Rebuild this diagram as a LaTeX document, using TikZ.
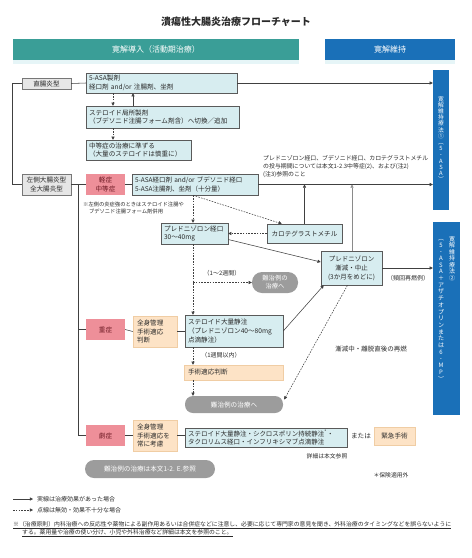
\documentclass[tikz,border=0pt]{standalone}
\usepackage{fontspec}
\setmainfont{Noto Sans CJK JP}
\usetikzlibrary{arrows.meta,calc}
\definecolor{teal1}{HTML}{3A9E97}
\definecolor{blue1}{HTML}{1A70B8}
\definecolor{cyanf}{HTML}{D7EDF0}
\definecolor{cyanl}{HTML}{E6F5F7}
\definecolor{boxd}{HTML}{5A5A5A}
\definecolor{pinkf}{HTML}{EE8F99}
\definecolor{pinkt}{HTML}{6E1A24}
\definecolor{peachf}{HTML}{FDE3C6}
\definecolor{peachd}{HTML}{F0CDA4}
\definecolor{grayf}{HTML}{E6E6E6}
\definecolor{grayd}{HTML}{777777}
\definecolor{pillf}{HTML}{9C9C9C}
\definecolor{lnc}{HTML}{404040}
\definecolor{lnl}{HTML}{8A8A8A}
\definecolor{txt}{HTML}{2A2A2A}
\begin{document}
\begin{tikzpicture}[x=1pt,y=-1pt,
  every node/.style={font=\fontsize{6.6}{8.8}\selectfont, text=txt},
  cbox/.style={draw=boxd, line width=0.5pt, fill=cyanf, inner xsep=3pt, inner ysep=0pt, align=left},
  gbox/.style={draw=grayd, line width=0.5pt, fill=grayf, inner sep=0pt, align=center},
  pbox/.style={fill=pinkf, text=pinkt, inner sep=0pt, align=center, minimum width=39, minimum height=21},
  obox/.style={fill=peachf, draw=peachd, line width=0.5pt, inner xsep=4pt, inner ysep=0pt, align=left},
  pill/.style={fill=pillf, text=white, inner sep=0pt, align=center},
  vt/.style={text=white, align=center, inner sep=0pt},
  lbl/.style={font=\fontsize{6}{8}\selectfont, inner sep=0pt},
  ln/.style={draw=lnc, line width=0.55pt},
  dsh/.style={ln, dash pattern=on 1.6pt off 1.2pt},
  arr/.style={-{Triangle[length=3.2pt,width=3.2pt]}}
]
\useasboundingbox (0,0) rectangle (472,558);

% title and headers
\node[font=\fontsize{10}{12}\selectfont\bfseries] (title) at (236,22) {潰瘍性大腸炎治療フローチャート};
\fill[cyanl] (13,60) rectangle (299,64);
\fill[cyanl] (325,60) rectangle (455,64);
\node[fill=teal1, text=white, minimum width=286, minimum height=21, inner sep=0pt, font=\fontsize{8}{10}\selectfont] (hdA) at (156,49.5) {寛解導入（活動期治療）};
\node[fill=blue1, text=white, minimum width=130, minimum height=21, inner sep=0pt, font=\fontsize{8}{10}\selectfont] (hdB) at (390,49.5) {寛解維持};

% maintenance bars
\node[fill=blue1, minimum width=16, minimum height=140, inner sep=0pt] (bar1) at (441,140) {};
\node[fill=blue1, minimum width=27, minimum height=193, inner sep=0pt] (bar2) at (446.5,318.5) {};
\node[vt, anchor=north, font=\fontsize{5.8}{6.2}\selectfont] (b1t) at (441,96) {寛\\解\\維\\持\\療\\法\\①\\︵\\5\\-\\A\\S\\A\\︶};
\node[vt, anchor=north, font=\fontsize{6}{6.5}\selectfont] (b2ta) at (452,236) {寛\\解\\維\\持\\療\\法\\②};
\node[vt, anchor=north, font=\fontsize{6}{6.7}\selectfont] (b2tb) at (441,239) {︵\\5\\-\\A\\S\\A\\＋\\ア\\ザ\\チ\\オ\\プ\\リ\\ン\\ま\\た\\は\\6\\-\\M\\P\\︶};

% proctitis row
\node[gbox, minimum width=49, minimum height=11] (rect) at (46.5,83.5) {直腸炎型};
\node[cbox, text width=145, minimum height=20] (asa1) at (161.5,83) {5-ASA製剤\\経口剤 and/or 注腸剤、坐剤};
\node[cbox, text width=147, minimum height=22] (ster) at (162.5,117) {ステロイド局所製剤\\（ブデソニド注腸フォーム剤含）へ切換／追加};
\node[cbox, text width=99, minimum height=20] (chuto) at (138.5,150) {中等症の治療に準ずる\\（大量のステロイドは慎重に）};

% left-sided / pancolitis
\node[gbox, minimum width=49, minimum height=21] (left) at (46.5,184.5) {左側大腸炎型\\全大腸炎型};
\node[pbox] (mild) at (105.5,184.5) {軽症\\中等症};
\node[cbox, text width=120, minimum height=21, font=\fontsize{6.5}{8.8}\selectfont] (asa2) at (195,184.5) {5-ASA経口剤 and/or ブデソニド経口\\5-ASA注腸剤、坐剤（十分量）};
\node[anchor=north west, align=left, font=\fontsize{5.9}{8}\selectfont, inner sep=0pt] (note1) at (263,155) {プレドニゾロン経口、ブデソニド経口、カロテグラストメチル\\の投与期間については本文1-2.3中等症(2)、および(注2)\\(注3)参照のこと};
\node[anchor=north west, align=left, font=\fontsize{5.3}{7}\selectfont, inner sep=0pt] (note2) at (83,201.5) {※左側の炎症強のときはステロイド注腸や\\\hspace*{1.1em}ブデソニド注腸フォーム剤併用};
\node[cbox, text width=61, minimum height=21] (pred) at (194.5,233.5) {プレドニゾロン経口\\30～40mg};
\node[cbox, align=center, text width=69, minimum height=19] (carot) at (304.5,233.5) {カロテグラストメチル};
\node[cbox, align=center, text width=55, minimum height=34, font=\fontsize{6.5}{9}\selectfont] (taper) at (351.5,268) {プレドニゾロン\\漸減・中止\\(3か月をめどに)};
\node[pill, minimum width=46, minimum height=21, rounded corners=10pt, font=\fontsize{6.3}{8}\selectfont] (nan1) at (275,282.5) {難治例の\\治療へ};
\node[lbl] (lb12) at (222,273) {（1～2週間）};
\node[lbl] (lbhin) at (408,278) {（頻回再燃例）};

% severe
\node[pbox] (sev) at (105.5,329.5) {重症};
\node[obox, text width=36, minimum height=31] (zen1) at (155,331.5) {全身管理\\手術適応\\判断};
\node[cbox, text width=92, minimum height=32] (ivst) at (234,331) {ステロイド大量静注\\（プレドニゾロン40～80mg\\点滴静注）};
\node[lbl] (lb1w) at (221,355) {（1週間以内）};
\node[lbl, font=\fontsize{6.5}{8}\selectfont] (lbzen) at (371,349) {漸減中・離脱直後の再燃};
\node[obox, text width=91, minimum height=15] (surg) at (233.5,372.5) {手術適応判断};
\node[pill, minimum width=98, minimum height=17, rounded corners=8pt] (nan2) at (234,404.5) {難治例の治療へ};

% fulminant
\node[pbox] (ful) at (105.5,435.5) {劇症};
\node[obox, text width=36, minimum height=31] (zen2) at (155,435.5) {全身管理\\手術適応を\\常に考慮};
\node[cbox, text width=156, minimum height=19, font=\fontsize{6.5}{8}\selectfont] (fbox) at (266,437.5) {ステロイド大量静注・シクロスポリン持続静注\textsuperscript{*}・\\タクロリムス経口・インフリキシマブ点滴静注};
\node (mata) at (361,436) {または};
\node[obox, align=center, text width=33, minimum height=18] (emer) at (394.5,436) {緊急手術};
\node[lbl, font=\fontsize{5.8}{7}\selectfont] (shosai) at (327,456) {詳細は本文参照};
\node[pill, minimum width=130, minimum height=18, rounded corners=9pt] (nan3) at (150,469) {難治例の治療は本文1-2. E.参照};
\node[lbl, font=\fontsize{5.8}{7}\selectfont] (hoken) at (391,475) {＊保険適用外};

% connectors: left spine
\draw[ln] (rect.west) -- ++(-9,0) |- (left.west);
\draw[ln] (rect.east) -- (asa1.west);
\draw[ln,arr] (asa1.east) -- (bar1.west |- asa1.east);
\draw[dsh,arr] (113,0 |- asa1.south) -- (113,0 |- ster.north);
\draw[ln,arr] (133,0 |- ster.north) -- (133,0 |- asa1.south);
\draw[dsh,arr] (113,0 |- ster.south) -- (113,0 |- chuto.north);

\draw[ln] (left.east) -- (mild.west);
\draw[ln] (78,0 |- left.east) |- (sev.west);
\draw[ln] (78,0 |- left.east) |- (ful.west);
\draw[ln] (mild.east) -- (asa2.west);
\draw[ln,arr] (asa2.east) -- (bar1.west |- asa2.east);

\draw[dsh,arr] (193,0 |- asa2.south) -- (193,0 |- pred.north);
\draw[dsh,arr] (193,0 |- asa2.south) -- ($(carot.north west)+(15,0)$);
\draw[dsh,arr] (carot.west) -- (pred.east);
\draw[ln,arr] (carot.north) -- (carot.north |- asa2.east);
\draw[ln,arr,draw=lnl] (352,0 |- taper.north) -- (352,0 |- asa2.east);
\draw[ln,arr] ($(pred.east)+(0,6)$) -- ($(taper.west)+(0,-6)$);
\draw[ln,arr] (taper.east) -- (bar2.west |- taper.east);

\draw[dsh,arr] (193,0 |- pred.south) -- (193,0 |- ivst.north);
\draw[dsh,arr] (193,0 |- nan1.west) -- (nan1.west);

\draw[ln] (sev.east) -- (zen1.west);
\draw[ln] (zen1.east) -- (zen1.east -| ivst.west);
\draw[ln,arr] (ivst.east) -- ($(taper.south west)+(3,0)$);
\draw[dsh,arr] ($(taper.south)+(-4,0)$) -- ($(nan2.east)+(1,-5)$);
\draw[dsh,arr] (193,0 |- ivst.south) -- (193,0 |- surg.north);
\draw[dsh,arr] (193,0 |- surg.south) -- (193,0 |- nan2.north);

\draw[ln] (ful.east) -- (zen2.west);
\draw[ln] (zen2.east) -- (zen2.east -| fbox.west);

% legend
\coordinate (lg1a) at (13,499);
\coordinate (lg1b) at (33,499);
\coordinate (lg2a) at (13,510);
\coordinate (lg2b) at (33,510);
\draw[ln,arr] (lg1a) -- (lg1b);
\draw[dsh,arr] (lg2a) -- (lg2b);
\node[anchor=west, lbl] (lg1t) at (37,499) {実線は治療効果があった場合};
\node[anchor=west, lbl] (lg2t) at (37,510) {点線は無効・効果不十分な場合};

% footnote
\node[anchor=west, inner sep=0pt, font=\fontsize{5.85}{8}\selectfont] (fn1) at (13,525) {\underline{※（治療原則）内科治療への反応性や薬物による副作用あるいは合併症などに注意し、必要に応じて専門家の意見を聞き、外科治療のタイミングなどを誤らないように}};
\node[anchor=west, inner sep=0pt, font=\fontsize{5.85}{8}\selectfont] (fn2) at (22,533) {\underline{する。薬用量や治療の使い分け、小児や外科治療など詳細は本文を参照のこと。}};
\end{tikzpicture}
\end{document}
